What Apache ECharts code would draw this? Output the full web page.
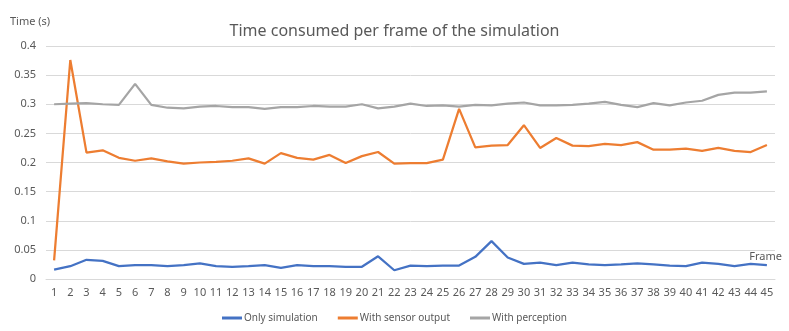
<!DOCTYPE html>
<html>
<head>
<meta charset="utf-8">
<script src="https://cdn.jsdelivr.net/npm/echarts@6/dist/echarts.min.js"></script>
<style>
  html, body { margin: 0; padding: 0; background: #fff; }
  #main { width: 789px; height: 331px; }
</style>
</head>
<body>
<div id="main"></div>
<script>
// frames 1..45
var frames = [];
for (var i = 1; i <= 45; i++) frames.push(String(i));

var onlySimulation = [0.016, 0.022, 0.033, 0.031, 0.022, 0.024, 0.024, 0.022, 0.024, 0.027,
  0.022, 0.021, 0.022, 0.024, 0.019, 0.024, 0.022, 0.022, 0.021, 0.021,
  0.039, 0.015, 0.023, 0.022, 0.023, 0.023, 0.038, 0.065, 0.037, 0.026,
  0.028, 0.024, 0.028, 0.025, 0.024, 0.025, 0.027, 0.025, 0.023, 0.022,
  0.028, 0.026, 0.022, 0.026, 0.024];

var withSensorOutput = [0.032, 0.376, 0.217, 0.221, 0.208, 0.203, 0.207, 0.202, 0.198, 0.200,
  0.201, 0.203, 0.207, 0.198, 0.216, 0.208, 0.205, 0.213, 0.199, 0.211,
  0.218, 0.198, 0.199, 0.199, 0.205, 0.292, 0.226, 0.229, 0.230, 0.264,
  0.225, 0.242, 0.229, 0.228, 0.232, 0.230, 0.235, 0.222, 0.222, 0.224,
  0.220, 0.225, 0.220, 0.218, 0.230];

var withPerception = [0.300, 0.301, 0.302, 0.300, 0.299, 0.335, 0.299, 0.294, 0.293, 0.296,
  0.297, 0.295, 0.295, 0.292, 0.295, 0.295, 0.297, 0.296, 0.296, 0.300,
  0.293, 0.296, 0.301, 0.297, 0.298, 0.296, 0.299, 0.298, 0.301, 0.303,
  0.298, 0.298, 0.299, 0.301, 0.304, 0.299, 0.295, 0.302, 0.298, 0.303,
  0.306, 0.316, 0.320, 0.320, 0.322];

var seriesNames = ['Only simulation', 'With sensor output', 'With perception'];
var colors = ['#4472C4', '#ED7D31', '#A5A5A5'];

var chart = echarts.init(document.getElementById('main'));
var font = '"Noto Sans", "Open Sans", sans-serif';

var option = {
  animation: false,
  color: colors,
  textStyle: { fontFamily: font },
  title: {
    text: 'Time consumed per frame of the simulation',
    left: 'center',
    top: 18,
    textStyle: { fontSize: 16, fontWeight: 'normal', color: '#595959', fontFamily: font }
  },
  graphic: [
    { type: 'text', left: 10, top: 16, style: { text: 'Time (s)', fill: '#595959', font: '11px ' + font } },
    { type: 'text', right: 7, top: 251, style: { text: 'Frame', fill: '#595959', font: '11px ' + font } }
  ],
  legend: {
    data: seriesNames,
    bottom: 3,
    left: 'center',
    itemWidth: 20,
    itemHeight: 3,
    itemGap: 20,
    icon: 'rect',
    textStyle: { color: '#595959', fontSize: 10, fontFamily: font, padding: [0, 0, 0, -3] }
  },
  grid: { left: 46, right: 14, top: 46, bottom: 52 },
  xAxis: {
    type: 'category',
    data: frames,
    boundaryGap: true,
    axisLine: { lineStyle: { color: '#D9D9D9' } },
    axisTick: { show: false },
    axisLabel: { color: '#595959', fontSize: 11, interval: 0, margin: 8 }
  },
  yAxis: {
    type: 'value',
    min: 0,
    max: 0.4,
    interval: 0.05,
    axisLine: { show: false },
    axisTick: { show: false },
    splitLine: { lineStyle: { color: '#D9D9D9' } },
    axisLabel: { color: '#595959', fontSize: 11, margin: 10 }
  },
  series: [
    { name: seriesNames[0], type: 'line', data: onlySimulation, symbol: 'none', lineStyle: { width: 2.25 } },
    { name: seriesNames[1], type: 'line', data: withSensorOutput, symbol: 'none', lineStyle: { width: 2.25 } },
    { name: seriesNames[2], type: 'line', data: withPerception, symbol: 'none', lineStyle: { width: 2.25 } }
  ]
};
chart.setOption(option);
</script>
</body>
</html>
